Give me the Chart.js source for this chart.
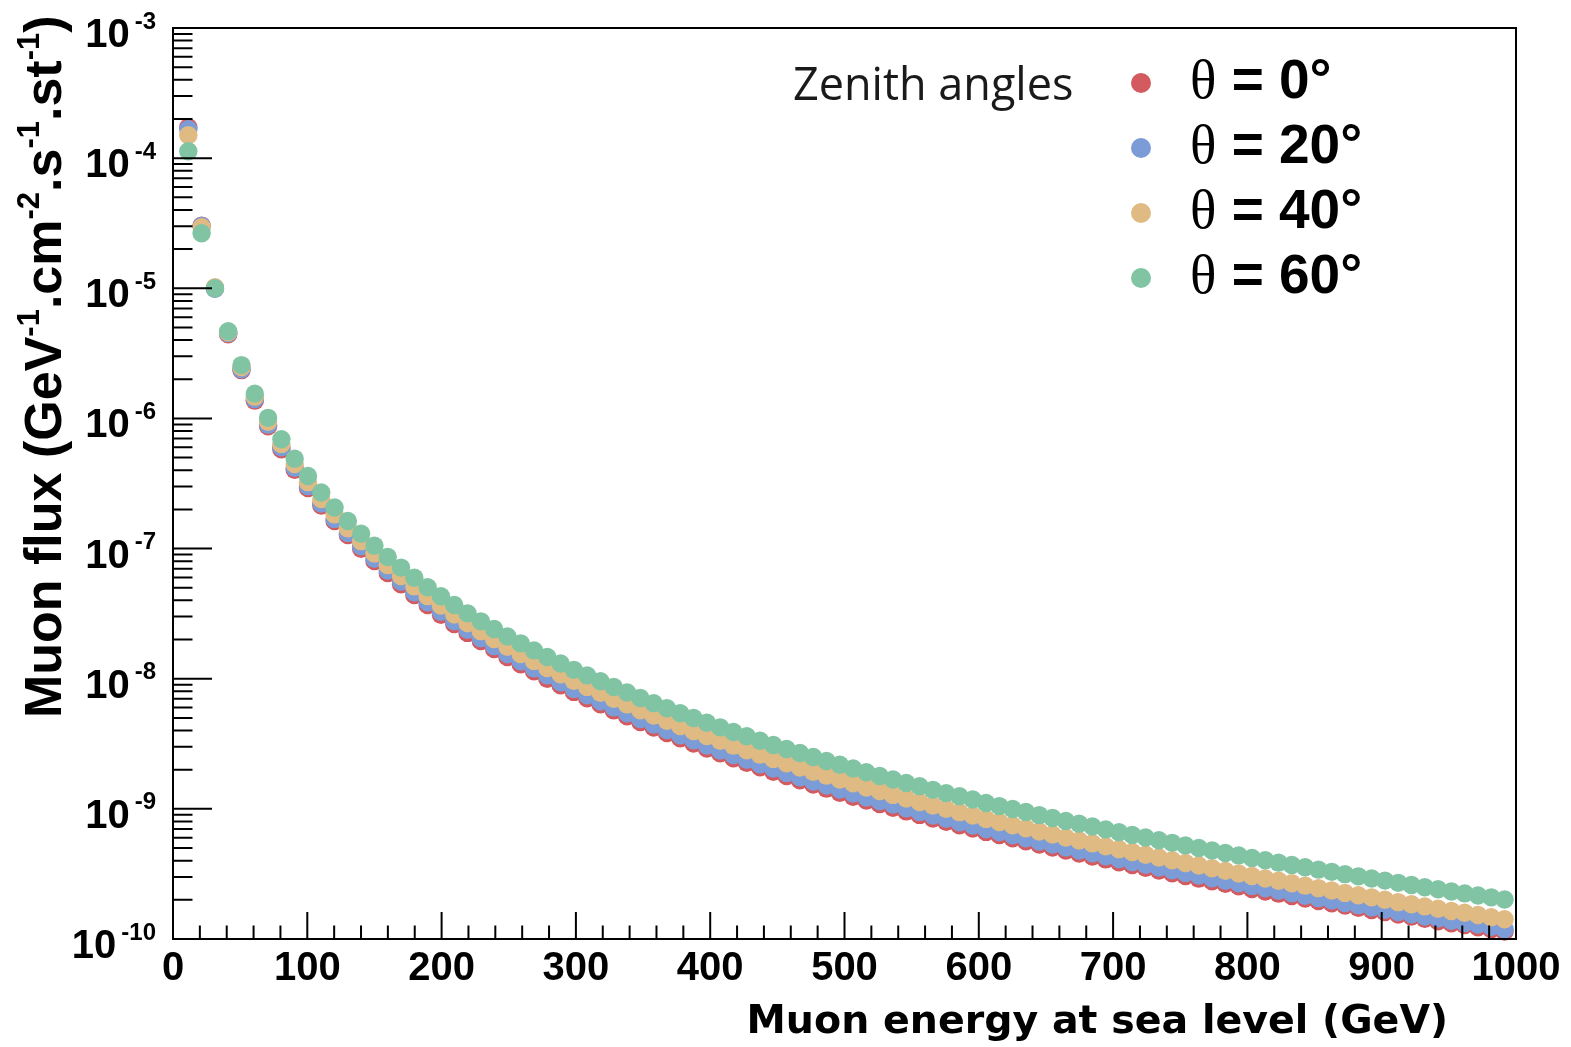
<!DOCTYPE html>
<html>
<head>
<meta charset="utf-8">
<title>Muon flux at sea level</title>
<script src="https://cdn.jsdelivr.net/npm/chart.js@4.4.0/dist/chart.umd.min.js"></script>
<style>
    html, body { margin: 0; padding: 0; background: #fff; }
    canvas { display: block; }
</style>
</head>
<body>
<canvas id="fluxChart" width="1571" height="1047"></canvas>
<script>
// energies of the points (GeV)
const energies = [
    11.4, 21.3, 31.2, 41.1, 51.0, 60.9, 70.8, 80.7, 90.6, 100.5,
    110.4, 120.3, 130.2, 140.1, 150.0, 159.9, 169.8, 179.7, 189.6, 199.5,
    209.4, 219.3, 229.2, 239.1, 249.0, 258.9, 268.8, 278.7, 288.6, 298.5,
    308.4, 318.3, 328.2, 338.1, 348.0, 357.9, 367.8, 377.7, 387.6, 397.5,
    407.4, 417.3, 427.2, 437.1, 447.0, 456.9, 466.8, 476.7, 486.6, 496.5,
    506.4, 516.3, 526.2, 536.1, 546.0, 555.9, 565.8, 575.7, 585.6, 595.5,
    605.4, 615.3, 625.2, 635.1, 645.0, 654.9, 664.8, 674.7, 684.6, 694.5,
    704.4, 714.3, 724.2, 734.1, 744.0, 753.9, 763.8, 773.7, 783.6, 793.5,
    803.4, 813.3, 823.2, 833.1, 843.0, 852.9, 862.8, 872.7, 882.6, 892.5,
    902.4, 912.3, 922.2, 932.1, 942.0, 951.9, 961.8, 971.7, 981.6, 991.5
];

// flux, zenith angle 0 deg
const flux0 = [
    1.73e-4, 3.03e-5, 9.95e-6, 4.44e-6, 2.35e-6, 1.37e-6, 8.71e-7, 5.79e-7, 4.03e-7, 2.92e-7,
    2.14e-7, 1.63e-7, 1.27e-7, 9.98e-8, 8.01e-8, 6.49e-8, 5.32e-8, 4.40e-8, 3.68e-8, 3.10e-8,
    2.63e-8, 2.25e-8, 1.95e-8, 1.69e-8, 1.47e-8, 1.29e-8, 1.14e-8, 1.00e-8, 8.90e-9, 7.92e-9,
    7.08e-9, 6.36e-9, 5.71e-9, 5.15e-9, 4.65e-9, 4.22e-9, 3.83e-9, 3.49e-9, 3.18e-9, 2.91e-9,
    2.67e-9, 2.45e-9, 2.26e-9, 2.09e-9, 1.93e-9, 1.79e-9, 1.66e-9, 1.54e-9, 1.43e-9, 1.33e-9,
    1.24e-9, 1.16e-9, 1.09e-9, 1.02e-9, 9.56e-10, 8.99e-10, 8.43e-10, 7.95e-10, 7.49e-10, 7.06e-10,
    6.65e-10, 6.30e-10, 5.95e-10, 5.63e-10, 5.32e-10, 5.05e-10, 4.78e-10, 4.54e-10, 4.31e-10, 4.09e-10,
    3.89e-10, 3.70e-10, 3.53e-10, 3.36e-10, 3.20e-10, 3.05e-10, 2.91e-10, 2.78e-10, 2.66e-10, 2.54e-10,
    2.42e-10, 2.32e-10, 2.23e-10, 2.14e-10, 2.05e-10, 1.96e-10, 1.88e-10, 1.81e-10, 1.74e-10, 1.67e-10,
    1.61e-10, 1.54e-10, 1.49e-10, 1.43e-10, 1.37e-10, 1.32e-10, 1.28e-10, 1.23e-10, 1.19e-10, 1.14e-10
];

// flux, zenith angle 20 deg
const flux20 = [
    1.67e-4, 3.01e-5, 9.91e-6, 4.52e-6, 2.39e-6, 1.41e-6, 8.93e-7, 6.00e-7, 4.18e-7, 3.02e-7,
    2.22e-7, 1.69e-7, 1.32e-7, 1.04e-7, 8.36e-8, 6.78e-8, 5.58e-8, 4.62e-8, 3.87e-8, 3.27e-8,
    2.77e-8, 2.38e-8, 2.05e-8, 1.78e-8, 1.55e-8, 1.36e-8, 1.20e-8, 1.06e-8, 9.39e-9, 8.35e-9,
    7.46e-9, 6.70e-9, 6.02e-9, 5.43e-9, 4.90e-9, 4.45e-9, 4.04e-9, 3.68e-9, 3.36e-9, 3.07e-9,
    2.81e-9, 2.59e-9, 2.38e-9, 2.20e-9, 2.04e-9, 1.89e-9, 1.75e-9, 1.62e-9, 1.51e-9, 1.41e-9,
    1.31e-9, 1.22e-9, 1.15e-9, 1.08e-9, 1.01e-9, 9.48e-10, 8.89e-10, 8.38e-10, 7.90e-10, 7.44e-10,
    7.01e-10, 6.64e-10, 6.27e-10, 5.94e-10, 5.61e-10, 5.32e-10, 5.04e-10, 4.79e-10, 4.55e-10, 4.32e-10,
    4.11e-10, 3.90e-10, 3.72e-10, 3.54e-10, 3.37e-10, 3.22e-10, 3.07e-10, 2.93e-10, 2.80e-10, 2.68e-10,
    2.56e-10, 2.45e-10, 2.35e-10, 2.25e-10, 2.15e-10, 2.06e-10, 1.98e-10, 1.89e-10, 1.82e-10, 1.75e-10,
    1.68e-10, 1.61e-10, 1.55e-10, 1.49e-10, 1.44e-10, 1.38e-10, 1.33e-10, 1.29e-10, 1.24e-10, 1.19e-10
];

// flux, zenith angle 40 deg
const flux40 = [
    1.50e-4, 2.95e-5, 1.02e-5, 4.59e-6, 2.48e-6, 1.47e-6, 9.42e-7, 6.37e-7, 4.46e-7, 3.24e-7,
    2.40e-7, 1.83e-7, 1.43e-7, 1.14e-7, 9.16e-8, 7.46e-8, 6.16e-8, 5.12e-8, 4.31e-8, 3.65e-8,
    3.11e-8, 2.68e-8, 2.32e-8, 2.02e-8, 1.76e-8, 1.55e-8, 1.37e-8, 1.21e-8, 1.08e-8, 9.65e-9,
    8.65e-9, 7.79e-9, 7.01e-9, 6.35e-9, 5.73e-9, 5.21e-9, 4.75e-9, 4.33e-9, 3.96e-9, 3.63e-9,
    3.33e-9, 3.06e-9, 2.82e-9, 2.61e-9, 2.42e-9, 2.24e-9, 2.08e-9, 1.93e-9, 1.80e-9, 1.68e-9,
    1.57e-9, 1.46e-9, 1.37e-9, 1.28e-9, 1.20e-9, 1.13e-9, 1.06e-9, 1.00e-9, 9.43e-10, 8.89e-10,
    8.37e-10, 7.93e-10, 7.49e-10, 7.09e-10, 6.70e-10, 6.36e-10, 6.02e-10, 5.72e-10, 5.43e-10, 5.15e-10,
    4.90e-10, 4.66e-10, 4.44e-10, 4.23e-10, 4.03e-10, 3.84e-10, 3.67e-10, 3.50e-10, 3.34e-10, 3.19e-10,
    3.05e-10, 2.92e-10, 2.80e-10, 2.68e-10, 2.57e-10, 2.46e-10, 2.36e-10, 2.26e-10, 2.17e-10, 2.09e-10,
    2.00e-10, 1.92e-10, 1.85e-10, 1.78e-10, 1.71e-10, 1.64e-10, 1.59e-10, 1.53e-10, 1.47e-10, 1.42e-10
];

// flux, zenith angle 60 deg
const flux60 = [
    1.13e-4, 2.65e-5, 1.00e-5, 4.68e-6, 2.57e-6, 1.55e-6, 1.01e-6, 6.92e-7, 4.90e-7, 3.61e-7,
    2.70e-7, 2.07e-7, 1.63e-7, 1.30e-7, 1.05e-7, 8.61e-8, 7.14e-8, 5.97e-8, 5.05e-8, 4.30e-8,
    3.68e-8, 3.18e-8, 2.76e-8, 2.41e-8, 2.11e-8, 1.87e-8, 1.65e-8, 1.47e-8, 1.31e-8, 1.17e-8,
    1.06e-8, 9.55e-9, 8.63e-9, 7.83e-9, 7.11e-9, 6.49e-9, 5.93e-9, 5.43e-9, 4.99e-9, 4.59e-9,
    4.23e-9, 3.90e-9, 3.61e-9, 3.34e-9, 3.10e-9, 2.88e-9, 2.69e-9, 2.50e-9, 2.33e-9, 2.18e-9,
    2.04e-9, 1.91e-9, 1.79e-9, 1.68e-9, 1.58e-9, 1.49e-9, 1.40e-9, 1.32e-9, 1.25e-9, 1.18e-9,
    1.11e-9, 1.05e-9, 9.98e-10, 9.46e-10, 8.95e-10, 8.51e-10, 8.07e-10, 7.69e-10, 7.31e-10, 6.95e-10,
    6.62e-10, 6.31e-10, 6.03e-10, 5.74e-10, 5.48e-10, 5.24e-10, 5.01e-10, 4.79e-10, 4.58e-10, 4.39e-10,
    4.20e-10, 4.03e-10, 3.86e-10, 3.71e-10, 3.56e-10, 3.41e-10, 3.28e-10, 3.15e-10, 3.03e-10, 2.92e-10,
    2.81e-10, 2.70e-10, 2.60e-10, 2.50e-10, 2.41e-10, 2.32e-10, 2.24e-10, 2.16e-10, 2.09e-10, 2.01e-10
];

const angleLabels = ['0', '20', '40', '60'];
const xTickLabels = ['0', '100', '200', '300', '400', '500', '600', '700', '800', '900', '1000'];
const yTickExponents = [-10, -9, -8, -7, -6, -5, -4, -3];

const colors = ['#d35b60', '#7b9cd6', '#e0ba83', '#80c4a4'];

// ROOT風の枠・目盛り・ラベルを描くプラグイン
const rootFrame = {
    id: 'rootFrame',
    beforeDraw(chart) {
        const ctx = chart.ctx;
        ctx.save();
        ctx.fillStyle = '#fff';
        ctx.fillRect(0, 0, chart.width, chart.height);
        ctx.restore();
    },
    afterDraw(chart) {
        const ctx = chart.ctx;
        const a = chart.chartArea;
        const xs = chart.scales.x;
        const ys = chart.scales.y;
        ctx.save();
        ctx.strokeStyle = '#000';
        ctx.fillStyle = '#000';
        ctx.lineWidth = 2;
        ctx.strokeRect(a.left, a.top, a.right - a.left, a.bottom - a.top);

        // 目盛り
        ctx.beginPath();
        for (let v = 0; v <= 1000; v += 20) {
            const px = xs.getPixelForValue(v);
            const len = v % 100 === 0 ? 27 : 13.5;
            ctx.moveTo(px, a.bottom);
            ctx.lineTo(px, a.bottom - len);
        }
        for (let e = -10; e < -3; e++) {
            for (let m = 1; m <= 9; m++) {
                const py = ys.getPixelForValue(m * Math.pow(10, e));
                const len = m === 1 ? 39 : 19.5;
                ctx.moveTo(a.left, py);
                ctx.lineTo(a.left + len, py);
            }
        }
        ctx.stroke();

        // x目盛りラベル
        ctx.font = 'bold 40px "Liberation Sans", Arial, sans-serif';
        ctx.textAlign = 'center';
        ctx.textBaseline = 'alphabetic';
        xTickLabels.forEach(function(lbl) {
            ctx.fillText(lbl, xs.getPixelForValue(Number(lbl)), 980);
        });

        // y目盛りラベル (10^n)
        yTickExponents.forEach(function(e) {
            const py = ys.getPixelForValue(Math.pow(10, e));
            ctx.textAlign = 'right';
            ctx.font = 'bold 24px "Liberation Sans", Arial, sans-serif';
            const sup = String(e);
            const supW = ctx.measureText(sup).width;
            ctx.fillText(sup, 156, py + 0.5);
            ctx.font = 'bold 40px "Liberation Sans", Arial, sans-serif';
            ctx.fillText('10', 156 - supW - 5, py + 19);
        });

        // x軸タイトル
        ctx.font = 'bold 39.5px "DejaVu Sans", "Open Sans", sans-serif';
        ctx.textAlign = 'right';
        ctx.fillText('Muon energy at sea level (GeV)', 1448, 1033);

        // y軸タイトル (回転)
        const parts = [
            ['Muon flux (GeV', false], ['-1', true], ['.cm', false], ['-2', true],
            ['.s', false], ['-1', true], ['.st', false], ['-1', true], [')', false]
        ];
        ctx.save();
        ctx.translate(61, 718);
        ctx.rotate(-Math.PI / 2);
        ctx.textAlign = 'left';
        let cx = 0;
        parts.forEach(function(p) {
            ctx.font = p[1] ? 'bold 31px "Liberation Sans", Arial, sans-serif'
                            : 'bold 52px "Liberation Sans", Arial, sans-serif';
            ctx.fillText(p[0], cx, p[1] ? -22 : 0);
            cx += ctx.measureText(p[0]).width;
        });
        ctx.restore();

        // 凡例
        ctx.textAlign = 'left';
        ctx.font = '45px "Open Sans", "DejaVu Sans", sans-serif';
        ctx.fillStyle = '#1a1a1a';
        ctx.fillText('Zenith angles', 793, 100);
        const rowBase = [98, 163, 228, 293];
        angleLabels.forEach(function(lbl, i) {
            ctx.fillStyle = colors[i];
            ctx.beginPath();
            ctx.arc(1141, rowBase[i] - 15, 10, 0, Math.PI * 2);
            ctx.fill();
            ctx.fillStyle = '#000';
            ctx.font = '55px "Liberation Serif", "Times New Roman", serif';
            ctx.fillText('\u03b8', 1190, rowBase[i]);
            const thW = ctx.measureText('\u03b8').width;
            ctx.font = 'bold 55px "Liberation Sans", Arial, sans-serif';
            ctx.fillText(' = ' + lbl + '\u00b0', 1190 + thW, rowBase[i]);
        });
        ctx.restore();
    }
};

function makePoints(values) {
    return energies.map(function(e, i) { return { x: e, y: values[i] }; });
}

const seriesValues = [flux0, flux20, flux40, flux60];
const datasets = seriesValues.map(function(vals, i) {
    return {
        label: '\u03b8 = ' + angleLabels[i] + '\u00b0',
        data: makePoints(vals),
        backgroundColor: colors[i],
        borderWidth: 0,
        pointRadius: 9.2,
        pointHoverRadius: 9.2,
        showLine: false,
        clip: false,
        order: 4 - i
    };
});

new Chart(document.getElementById('fluxChart').getContext('2d'), {
    type: 'scatter',
    data: { datasets: datasets },
    options: {
        responsive: false,
        animation: false,
        devicePixelRatio: 1,
        events: [],
        layout: { padding: { left: 173, right: 55, top: 28, bottom: 108 } },
        scales: {
            x: { type: 'linear', min: 0, max: 1000, display: false },
            y: { type: 'logarithmic', min: 1e-10, max: 1e-3, display: false }
        },
        plugins: {
            legend: { display: false },
            tooltip: { enabled: false }
        }
    },
    plugins: [rootFrame]
});
</script>
</body>
</html>
